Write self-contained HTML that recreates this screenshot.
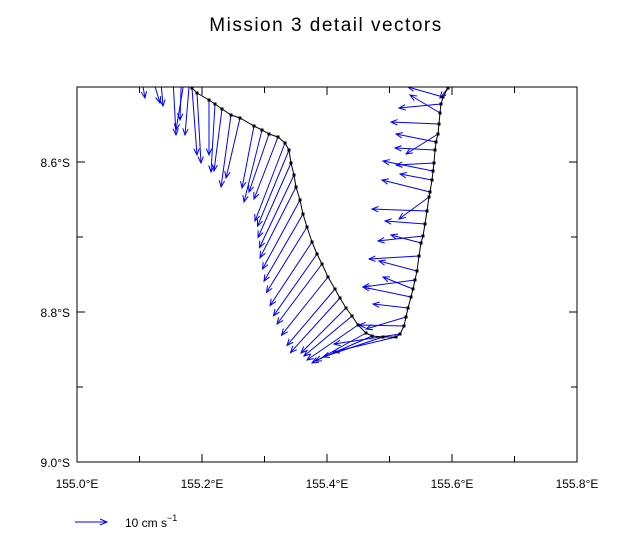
<!DOCTYPE html>
<html><head><meta charset="utf-8"><style>
body{margin:0;background:#fff}
svg{display:block;font-family:"Liberation Sans",sans-serif}
</style></head><body>
<svg id="s" width="640" height="550" xmlns="http://www.w3.org/2000/svg">
<defs><clipPath id="c"><rect x="77" y="87" width="500" height="375"/></clipPath></defs>
<rect width="640" height="550" fill="#fff"/>
<text x="326" y="31" font-size="19" text-anchor="middle" letter-spacing="1.5">Mission 3 detail vectors</text>
<g id="vec" clip-path="url(#c)" stroke="#0000ff" stroke-width="1" fill="none"></g>
<polyline id="trk" fill="none" stroke="#000" stroke-width="1"/>
<g id="dots" fill="#000"></g>
<rect x="77" y="87" width="500" height="375" fill="none" stroke="#000" stroke-width="1"/>
<g id="ax" stroke="#000" stroke-width="1"></g>
<g font-size="12" text-anchor="middle">
<text x="77" y="488">155.0°E</text><text x="202" y="488">155.2°E</text><text x="327" y="488">155.4°E</text><text x="452" y="488">155.6°E</text><text x="577" y="488">155.8°E</text>
</g>
<g font-size="12" text-anchor="end">
<text x="70" y="167">8.6°S</text><text x="70" y="317">8.8°S</text><text x="70" y="467">9.0°S</text>
</g>
<g stroke="#0000ff"><line x1="75" y1="522" x2="107" y2="522"/><polyline points="100,519 107,522 100,525" fill="none"/></g>
<text x="125" y="527" font-size="12">10 cm s<tspan font-size="9" dy="-6">−1</tspan></text>
</svg>
<script>
var ax=document.getElementById('ax'),h='';
for(var i=0;i<=8;i++){var x=77+62.5*i;h+='<line x1="'+x+'" y1="87" x2="'+x+'" y2="'+(i%2?93:95)+'"/><line x1="'+x+'" y1="462" x2="'+x+'" y2="'+(i%2?456:454)+'"/>';}
for(var j=0;j<=5;j++){var y=87+75*j;h+='<line x1="77" y1="'+y+'" x2="'+(j%2?85:83)+'" y2="'+y+'"/><line x1="577" y1="'+y+'" x2="'+(j%2?569:571)+'" y2="'+y+'"/>';}
ax.innerHTML=h;
var L=[[192,88],[197,93],[209,100],[215,104],[222,109],[231,115],[240,118],[254,126],[262,130],[269,134],[278,137],[285,143],[289,150],[291,163],[294,175],[296,187],[300,200],[303,214],[307,227],[312,242],[317,254],[322,264],[328,277],[335,289],[340,298],[346,308],[352,316],[358,325],[366,333],[372,336],[383,337],[396,337],[400,334]];
var R=[[404,326],[406,317],[408,308],[411,297],[413,289],[415,280],[417,271],[419,256],[421,243],[423,236],[425,224],[427,211],[429,197],[430,192],[432,180],[433,171],[434,163],[435,150],[436,142],[438,134],[439,124],[440,113],[441,104],[443,97],[448,88]];
var pts=L.concat(R);
document.getElementById('trk').setAttribute('points',pts.map(function(p){return p.join(',')}).join(' '));
var d='';pts.forEach(function(p){d+='<rect x="'+(p[0]-1.5)+'" y="'+(p[1]-1.5)+'" width="3" height="3"/>';});
document.getElementById('dots').innerHTML=d;
function arrow(x,y,dx,dy){var x2=x+dx,y2=y+dy,a=Math.atan2(dy,dx),s=7,w=0.4;
return '<line x1="'+x+'" y1="'+y+'" x2="'+x2+'" y2="'+y2+'"/><polyline points="'+(x2-s*Math.cos(a-w))+','+(y2-s*Math.sin(a-w))+' '+x2+','+y2+' '+(x2-s*Math.cos(a+w))+','+(y2-s*Math.sin(a+w))+'"/>';}
var v='';
[[140,70,5,28],[150,70,10,33],[160,70,3,36],[172,60,4,75],[182,60,-2,60],[186,70,-10,60],[190,75,-5,60]].forEach(function(q){v+=arrow(q[0],q[1],q[2],q[3]);});
L.forEach(function(p,i){var dx,dy;
if(i<11){dx=[5,4,0,-4,-8,-10,-14,-12,-18,-20,-24][i];dy=[67,70,55,68,62,72,60,62,72,58,62][i];}
else if(i<25){dx=-30-(i-11)*1.5;dy=78-(i-11)*1.8;}
else{dx=-45-(i-25)*3;dy=45-(i-25)*5;}
v+=arrow(p[0],p[1],dx,dy);});
var RV=[[-45,-1],[-40,12],[-35,-4],[-48,-10],[-30,-12],[-52,7],[-38,-10],[-50,3],[-30,-8],[-45,5],[-40,-3],[-55,-2],[-30,22],[-48,-12],[-32,-6],[-50,-10],[-38,2],[-40,-2],[-40,-8],[-32,20],[-48,-2],[-30,-18],[-42,4],[-35,-10],[-8,10]];
R.forEach(function(p,i){var q=RV[i];v+=arrow(p[0],p[1],q[0],q[1]);});
document.getElementById('vec').innerHTML=v;
</script>
</body></html>
